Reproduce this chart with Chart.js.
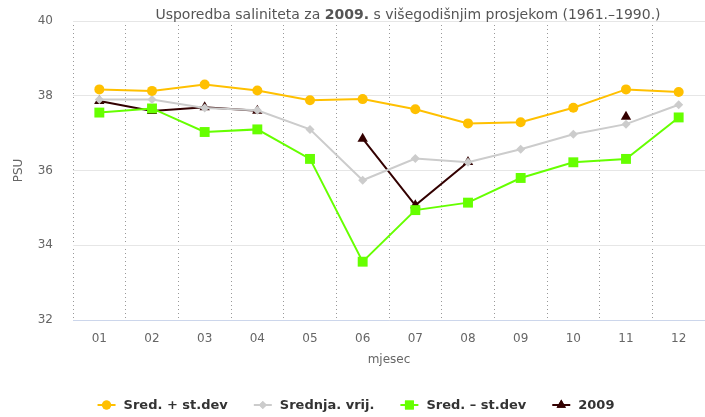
<!DOCTYPE html>
<html>
<head>
<meta charset="utf-8">
<script src="https://cdn.jsdelivr.net/npm/chart.js@4"></script>
<style>
  html, body { margin: 0; padding: 0; background: #fff; overflow: hidden; }
  #wrap { width: 705px; height: 417px; position: relative; }
  canvas { display: block; }
</style>
</head>
<body>
<div id="wrap"><canvas id="ch"></canvas></div>
<script>
/* ---------- podaci ---------- */
const mjeseci = ["01", "02", "03", "04", "05", "06", "07", "08", "09", "10", "11", "12"];
const gornja = [38.17, 38.13, 38.30, 38.14, 37.88, 37.91, 37.64, 37.26, 37.29, 37.68, 38.17, 38.10];
const srednja = [37.90, 37.90, 37.67, 37.61, 37.10, 35.74, 36.32, 36.22, 36.57, 36.97, 37.24, 37.76];
const donja = [37.55, 37.66, 37.03, 37.10, 36.31, 33.56, 34.94, 35.14, 35.80, 36.22, 36.31, 37.42];
const god2009 = [37.86, 37.59, 37.69, 37.60, null, 36.85, 35.07, 36.23, null, null, 37.44, null];
const yTicks = [32, 34, 36, 38, 40];

const FONT = "'DejaVu Sans', sans-serif";

/* ---------- naslov (dio teksta podebljan) ---------- */
const naslov = {
  id: "naslov",
  afterDraw(ch) {
    const g = ch.ctx;
    const parts = [
      ["normal", "Usporedba saliniteta za "],
      ["bold", "2009."],
      ["normal", " s višegodišnjim prosjekom (1961.–1990.)"],
    ];
    g.save();
    g.fillStyle = "#555";
    g.textBaseline = "middle";
    let w = 0;
    parts.forEach((p) => { g.font = p[0] + " 14px " + FONT; w += g.measureText(p[1]).width; });
    let x = 408 - w / 2;
    parts.forEach((p) => {
      g.font = p[0] + " 14px " + FONT;
      g.fillText(p[1], x, 15);
      x += g.measureText(p[1]).width;
    });
    g.restore();
  },
};

/* ---------- legenda: linija + marker ---------- */
const legenda = {
  id: "legenda",
  afterDraw(ch) {
    const g = ch.ctx;
    const y = 405, sym = 18, gap = 8, razmak = 26;
    g.save();
    g.font = "bold 13px " + FONT;
    g.textBaseline = "middle";
    const items = ch.data.datasets.map((d) => ({ d, w: g.measureText(d.label).width }));
    const total = items.reduce((s, it) => s + sym + gap + it.w, 0) + razmak * (items.length - 1);
    let x = 356 - total / 2;
    items.forEach(({ d, w }) => {
      g.strokeStyle = d.borderColor; g.lineWidth = 2;
      g.beginPath(); g.moveTo(x, y); g.lineTo(x + sym, y); g.stroke();
      g.fillStyle = d.pointBackgroundColor;
      Chart.helpers.drawPoint(g, { pointStyle: d.pointStyle, radius: d.pointRadius * 0.9, borderWidth: 0 }, x + sym / 2, y);
      g.fill();
      g.fillStyle = "#333";
      g.fillText(d.label, x + sym + gap, y + 1);
      x += sym + gap + w + razmak;
    });
    g.restore();
  },
};

const serija = (label, data, color, style, r) => ({
  label, data,
  borderColor: color, backgroundColor: color,
  pointBackgroundColor: color, pointBorderColor: color,
  pointStyle: style, pointRadius: r, pointHoverRadius: r,
  borderWidth: 2, pointBorderWidth: 0, tension: 0, spanGaps: false,
});

new Chart(document.getElementById("ch"), {
  type: "line",
  data: {
    labels: mjeseci,
    datasets: [
      serija("Sred. + st.dev", gornja, "#FFC000", "circle", 5),
      serija("Srednja. vrij.", srednja, "#CCCCCC", "rectRot", 4.5),
      serija("Sred. – st.dev", donja, "#66FF00", "rect", 7),
      serija("2009", god2009, "#330000", "triangle", 6),
    ],
  },
  options: {
    responsive: true, maintainAspectRatio: false, animation: false,
    layout: { autoPadding: false, padding: { top: 21, right: 0, left: 0, bottom: 47 } },
    plugins: { legend: { display: false }, title: { display: false }, tooltip: { enabled: false } },
    scales: {
      x: {
        offset: true,
        grid: { offset: true, color: "#999", lineWidth: 1, drawTicks: false },
        border: { display: true, color: "#CCD6EB", width: 1, dash: [1, 3] },
        ticks: { color: "#666", font: { family: FONT, size: 12 }, padding: 12 },
        title: { display: true, text: "mjesec", color: "#666", font: { family: FONT, size: 12 }, padding: { bottom: 3, top: 0 } },
        afterFit: (s) => { s.height = 50; },
      },
      y: {
        min: 32, max: 40,
        afterBuildTicks: (s) => { s.ticks = yTicks.map((v) => ({ value: v })); },
        grid: { color: "#E6E6E6", drawTicks: false },
        border: { display: false },
        ticks: { color: "#666", font: { family: FONT, size: 12 }, padding: 20 },
        title: { display: true, text: "PSU", color: "#666", font: { family: FONT, size: 12 }, padding: { top: 12, bottom: 0 } },
        afterFit: (s) => { s.width = 73; s.paddingTop = 0; s.paddingBottom = 0; },
      },
    },
  },
  plugins: [naslov, legenda],
});
</script>
</body>
</html>
